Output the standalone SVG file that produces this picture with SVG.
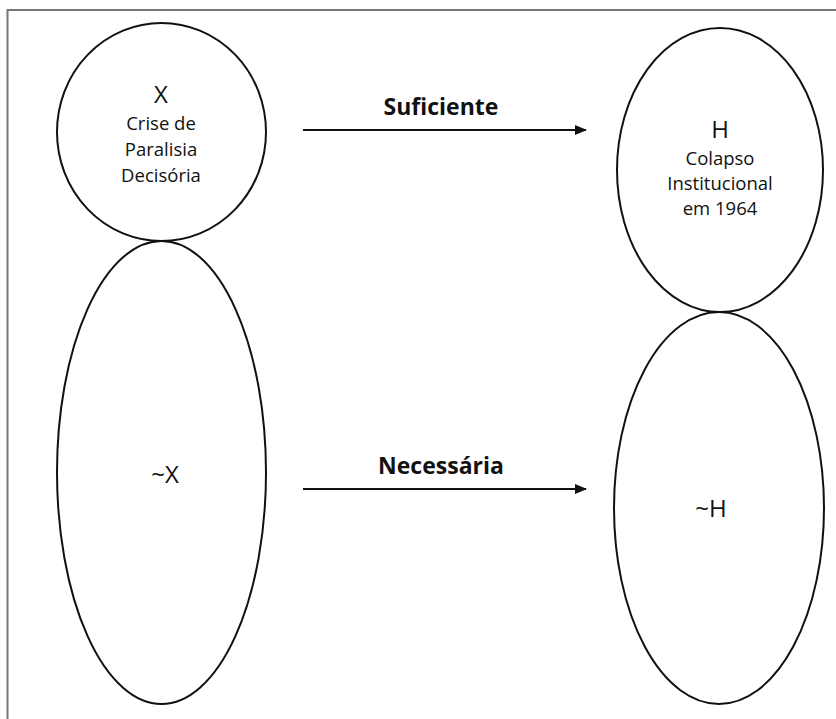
<svg xmlns="http://www.w3.org/2000/svg" width="836" height="719" viewBox="0 0 836 719">
<defs>
<style>
.node{fill:#fff;stroke:#111;stroke-width:2}
.t{font-family:"Open Sans","Noto Sans",sans-serif;fill:#111;text-anchor:middle}
.big{font-size:24px}
.sm{font-size:18.5px}
.lbl{font-family:"Open Sans","Noto Sans",sans-serif;font-weight:bold;font-size:23px;fill:#111;text-anchor:middle}
.edge{stroke:#111;stroke-width:2;fill:none}
</style>
<marker id="ah" markerWidth="12" markerHeight="10" refX="11" refY="5" orient="auto" markerUnits="userSpaceOnUse">
<path d="M0,0 L12,5 L0,10 Z" fill="#111"/>
</marker>
</defs>
<rect width="836" height="719" fill="#fff"/>
<path d="M7.5,719 V10 H836" fill="none" stroke="#777" stroke-width="2"/>
<g id="nodeX">
<ellipse class="node" cx="161.5" cy="132" rx="104.5" ry="109"/>
<text class="t big" x="161" y="103">X</text>
<text class="t sm" x="161" y="130">Crise de</text>
<text class="t sm" x="161" y="156">Paralisia</text>
<text class="t sm" x="161" y="182">Decisória</text>
</g>
<g id="nodeNotX">
<ellipse class="node" cx="161.5" cy="472.5" rx="104.5" ry="231.5"/>
<text class="t big" x="165" y="483">~X</text>
</g>
<g id="nodeH">
<ellipse class="node" cx="720" cy="170" rx="103" ry="142"/>
<text class="t big" x="720" y="138">H</text>
<text class="t sm" x="720" y="165">Colapso</text>
<text class="t sm" x="720" y="190">Institucional</text>
<text class="t sm" x="720" y="215">em 1964</text>
</g>
<g id="nodeNotH">
<ellipse class="node" cx="719" cy="508" rx="105" ry="196"/>
<text class="t big" x="711" y="517">~H</text>
</g>
<g id="connectors">
<line class="edge" x1="303" y1="130" x2="586" y2="130" marker-end="url(#ah)"/>
<text class="lbl" x="441" y="115">Suficiente</text>
<line class="edge" x1="303" y1="489" x2="586" y2="489" marker-end="url(#ah)"/>
<text class="lbl" x="441" y="474">Necessária</text>
</g>
</svg>
